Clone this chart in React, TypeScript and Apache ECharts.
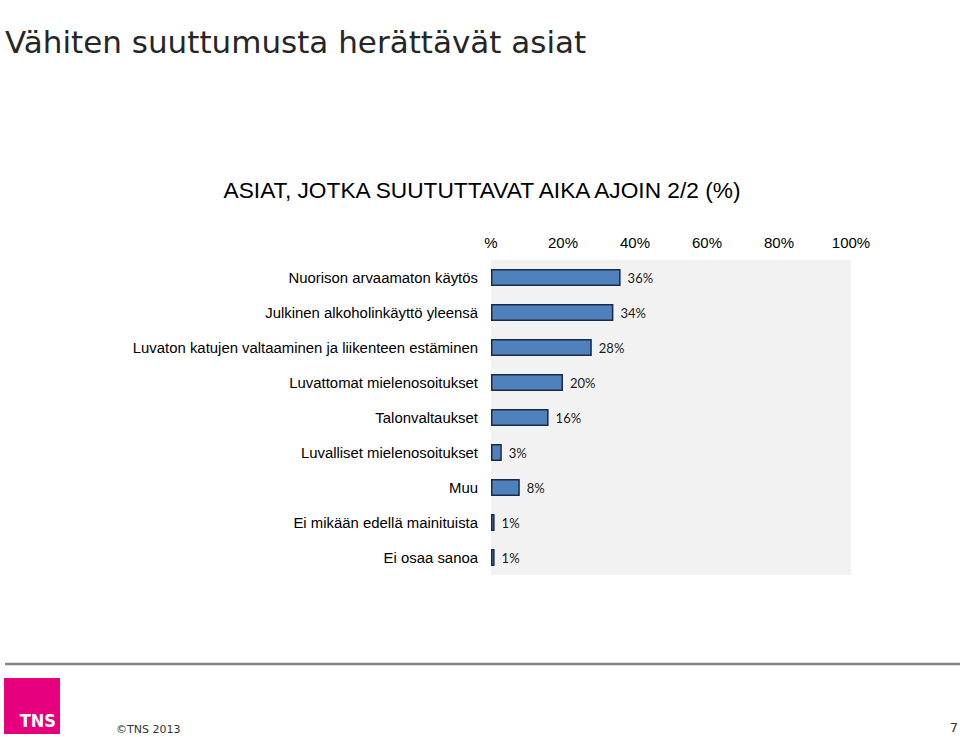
import React, { useEffect, useRef } from "react";
import * as echarts from "echarts";

const categories = [
  "Nuorison arvaamaton käytös",
  "Julkinen alkoholinkäyttö yleensä",
  "Luvaton katujen valtaaminen ja liikenteen estäminen",
  "Luvattomat mielenosoitukset",
  "Talonvaltaukset",
  "Luvalliset mielenosoitukset",
  "Muu",
  "Ei mikään edellä mainituista",
  "Ei osaa sanoa",
];
const values = [36, 34, 28, 20, 16, 3, 8, 1, 1];
const axisTicks = [0, 20, 40, 60, 80, 100];
const titleText = "Vähiten suuttumusta herättävät asiat";
const subtitleText = "ASIAT, JOTKA SUUTUTTAVAT AIKA AJOIN 2/2 (%)";
const footerText = "\u00A9TNS 2013";
const pageNumber = "7";

export default function App() {
  const ref = useRef<HTMLDivElement>(null);
  useEffect(() => {
    if (!ref.current) return;
    const chart = echarts.init(ref.current, null, { renderer: "svg" });
    chart.setOption({
      animation: false,
      backgroundColor: "#ffffff",
      grid: { left: 491, right: 109, top: 260, bottom: 162, containLabel: false,
        show: true, backgroundColor: "#f2f2f2", borderWidth: 0 },
      xAxis: {
        type: "value",
        position: "top",
        min: axisTicks[0],
        max: axisTicks[axisTicks.length - 1],
        interval: 20,
        axisLine: { show: false },
        axisTick: { show: false },
        splitLine: { show: false },
        axisLabel: {
          margin: 10,
          fontFamily: "Liberation Sans, Arial, sans-serif",
          fontSize: 15,
          color: "#000",
          formatter: (v: number) => (v === 0 ? "%" : v + "%"),
        },
      },
      yAxis: {
        type: "category",
        inverse: true,
        data: categories,
        axisLine: { show: false },
        axisTick: { show: false },
        axisLabel: {
          margin: 13,
          fontFamily: "Liberation Sans, Arial, sans-serif",
          fontSize: 14.9,
          color: "#000",
        },
      },
      series: [
        {
          type: "bar",
          data: values,
          barWidth: 17,
          itemStyle: { color: "#4f81bd", borderColor: "#1c2a48", borderWidth: 1.5 },
          label: {
            show: true,
            position: "right",
            distance: 7,
            formatter: "{c}%",
            fontFamily: "Lato, Open Sans, sans-serif",
            fontSize: 13,
            color: "#1a1a1a",
          },
        },
      ],
      graphic: [
        {
          type: "text",
          left: 5,
          top: 26,
          style: { text: titleText, font: "31px 'DejaVu Sans', Verdana, sans-serif", fill: "#262626" },
        },
        {
          type: "text",
          x: 482,
          y: 190,
          style: {
            text: subtitleText,
            font: "22.7px 'Liberation Sans', Arial, sans-serif",
            fill: "#000",
            textAlign: "center",
            textVerticalAlign: "middle",
          },
        },
        {
          type: "line",
          shape: { x1: 5, y1: 664, x2: 960, y2: 664 },
          style: { stroke: "#868686", lineWidth: 2.5 },
        },
        {
          type: "rect",
          shape: { x: 4, y: 678, width: 56, height: 56 },
          style: { fill: "#e6007e" },
        },
        {
          type: "text",
          x: 56,
          y: 729,
          style: {
            text: "TNS",
            font: "bold 18px 'DejaVu Sans Condensed', 'DejaVu Sans', sans-serif",
            fill: "#ffffff",
            textAlign: "right",
            textVerticalAlign: "bottom",
          },
        },
        {
          type: "text",
          x: 116,
          y: 729,
          style: {
            text: footerText,
            font: "11px 'DejaVu Sans', Tahoma, sans-serif",
            fill: "#333",
            textVerticalAlign: "middle",
          },
        },
        {
          type: "text",
          x: 958,
          y: 727,
          style: {
            text: pageNumber,
            font: "13px 'DejaVu Sans', Tahoma, sans-serif",
            fill: "#333",
            textAlign: "right",
            textVerticalAlign: "middle",
          },
        },
      ],
    });
    return () => chart.dispose();
  }, []);
  return (
    <div
      ref={ref}
      style={{ position: "fixed", left: 0, top: 0, width: 960, height: 737 }}
    />
  );
}
